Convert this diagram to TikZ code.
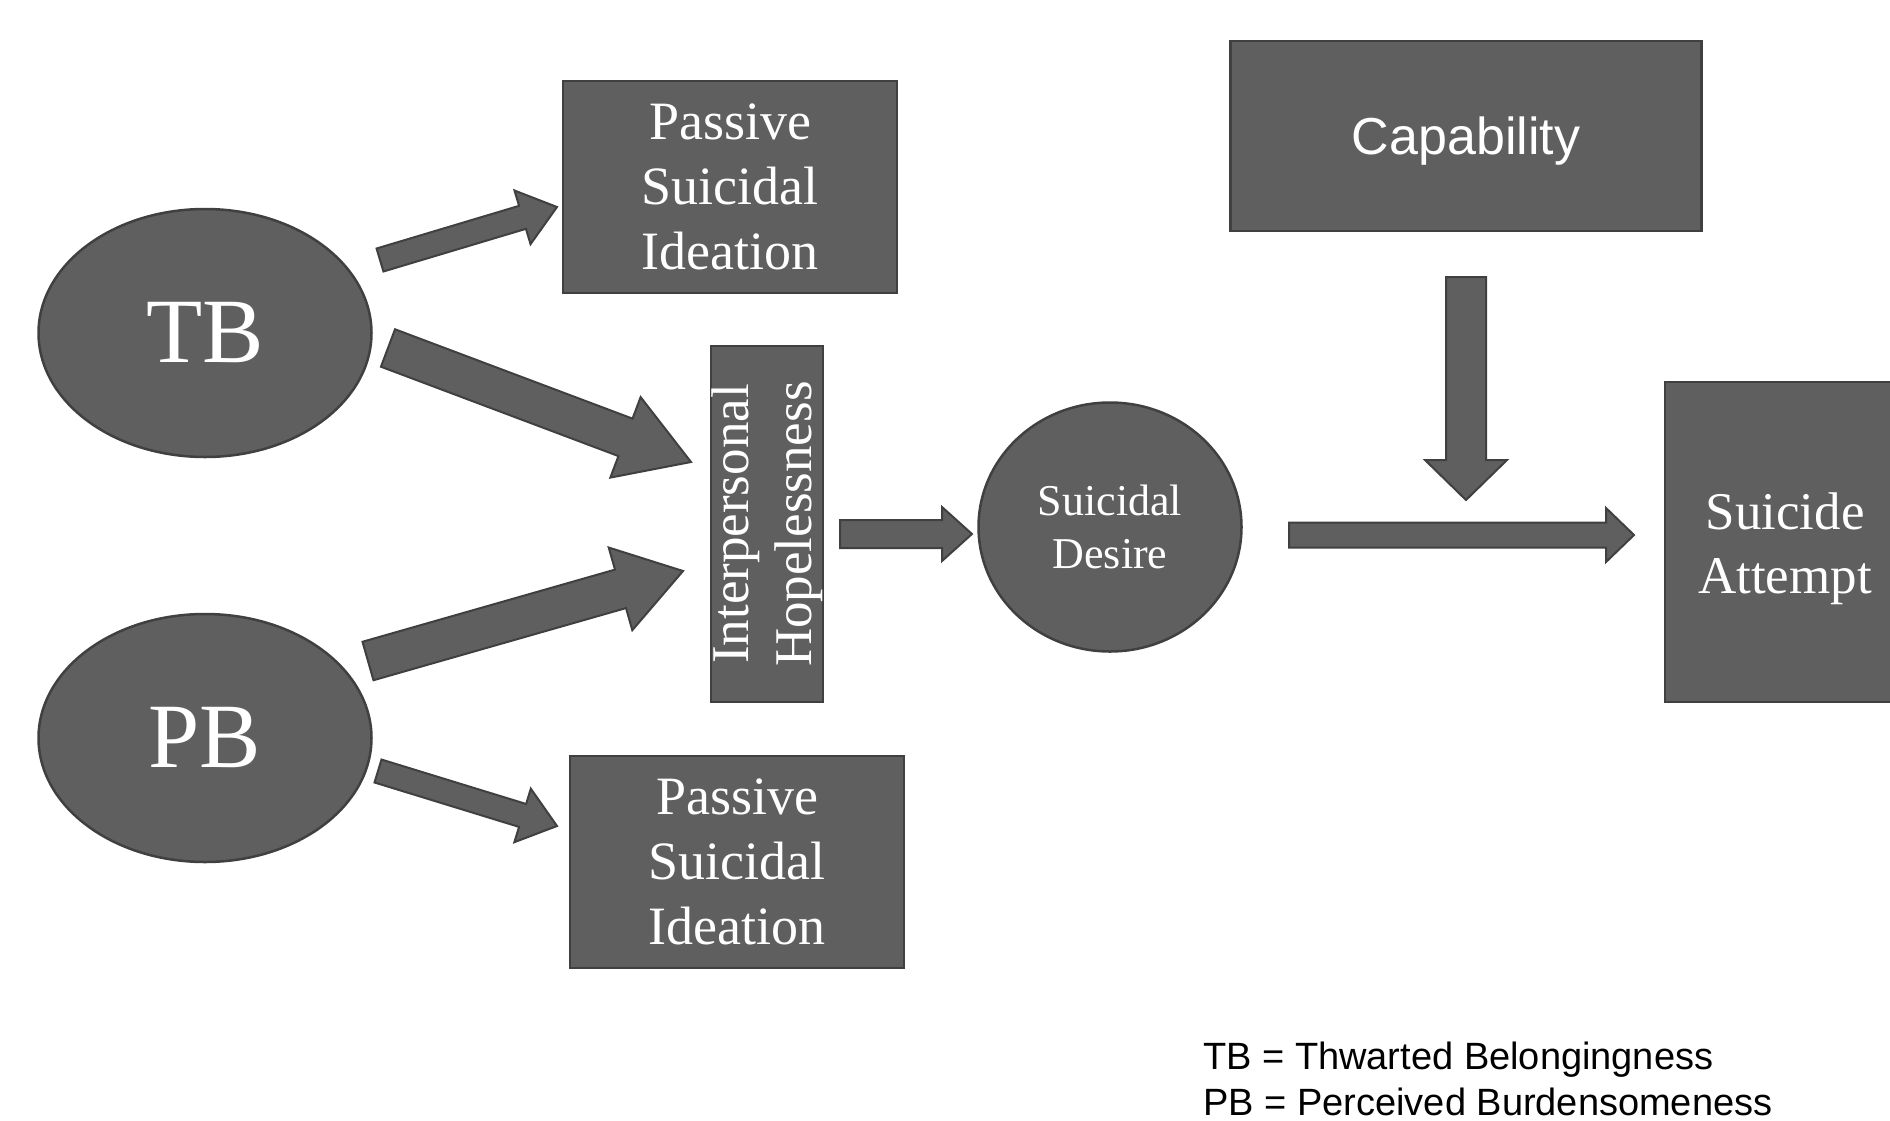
\documentclass[tikz,border=0pt]{standalone}
\usepackage{fontspec}
\setmainfont{Liberation Serif}
\newfontfamily\sansf{Liberation Sans}
\usetikzlibrary{shapes.geometric,calc}
\definecolor{boxgray}{HTML}{5F5F5F}
\definecolor{edgegray}{HTML}{404040}
% block arrow: tail, tip, shaft half-width, head half-width, head length
\newcommand\blockarr[5]{%
  \coordinate (ba-h) at ($(#2)!#5!(#1)$);
  \draw[blockarrow] ($(#1)!#3!90:(#2)$) -- ($(ba-h)!#3!-90:(#1)$) -- ($(ba-h)!#4!-90:(#1)$) -- (#2)
    -- ($(ba-h)!#4!90:(#1)$) -- ($(ba-h)!#3!90:(#1)$) -- ($(#1)!#3!-90:(#2)$) -- cycle;
}
\begin{document}
\begin{tikzpicture}[x=1pt,y=-1pt,
  shapebox/.style={draw=edgegray, fill=boxgray, line width=2.5pt, text=white, inner sep=0pt, align=center},
  rectbox/.style={shapebox, rectangle},
  ellbox/.style={shapebox, ellipse},
  blockarrow/.style={draw=edgegray, fill=boxgray, line width=2pt, line join=miter},
  legend/.style={anchor=base west, inner sep=0pt, text=black, font=\sansf\fontsize{38}{46}\selectfont}]

\useasboundingbox (0,0) rectangle (1890,1120);

% nodes
\node[ellbox, minimum width=333pt, minimum height=248pt, font=\fontsize{92}{100}\selectfont] (TB) at (205,333) {TB};
\node[ellbox, minimum width=333pt, minimum height=248pt, font=\fontsize{92}{100}\selectfont] (PB) at (205,738) {PB};
\node[rectbox, minimum width=334pt, minimum height=212pt, font=\fontsize{54}{65}\selectfont] (PSI1) at (730,187) {Passive\\Suicidal\\Ideation};
\node[rectbox, minimum width=334pt, minimum height=212pt, font=\fontsize{54}{65}\selectfont] (PSI2) at (737,862) {Passive\\Suicidal\\Ideation};
\node[rectbox, rotate=90, minimum width=356pt, minimum height=112pt, font=\fontsize{53}{63}\selectfont] (IH) at (767,524) {Interpersonal\\Hopelessness};
\node[ellbox, minimum width=263pt, minimum height=249pt, font=\fontsize{44}{53}\selectfont] (SD) at (1110,527) {Suicidal\\Desire};
\node[rectbox, minimum width=471pt, minimum height=190pt, text depth=0pt, font=\sansf\fontsize{52}{60}\selectfont] (CAP) at (1466,136) {Capability};
\node[rectbox, minimum width=240pt, minimum height=320pt, label={[name=SAtext, text=white, align=center, inner sep=0pt, yshift=-7pt, font=\fontsize{53}{64}\selectfont]center:Suicide\\Attempt}] (SA) at (1785,542) {};

% legend
\node[legend] (L1) at (1203,1069) {TB = Thwarted Belongingness};
\node[legend] (L2) at (1203,1115) {PB = Perceived Burdensomeness};

% arrow end points
\coordinate (a1t) at (380,260);  \coordinate (a1h) at (557,207);
\coordinate (a2t) at (388,348);  \coordinate (a2h) at (691,462);
\coordinate (a3t) at (368,661);  \coordinate (a3h) at (683,571);
\coordinate (a4t) at (378,771);  \coordinate (a4h) at (557,826);
\coordinate (a5t) at (840,534);  \coordinate (a5h) at (972,534);
\coordinate (a6t) at (1289,535); \coordinate (a6h) at (1634,535);
\coordinate (a7t) at (1466,277); \coordinate (a7h) at (1466,500);

\blockarr{a1t}{a1h}{12pt}{28pt}{36pt}
\blockarr{a2t}{a2h}{20pt}{43pt}{70pt}
\blockarr{a3t}{a3h}{20pt}{43pt}{65pt}
\blockarr{a4t}{a4h}{12pt}{28pt}{36pt}
\blockarr{a5t}{a5h}{14pt}{27pt}{30pt}
\blockarr{a6t}{a6h}{12.5pt}{27pt}{28pt}
\blockarr{a7t}{a7h}{20pt}{41pt}{40pt}
\end{tikzpicture}
\end{document}
